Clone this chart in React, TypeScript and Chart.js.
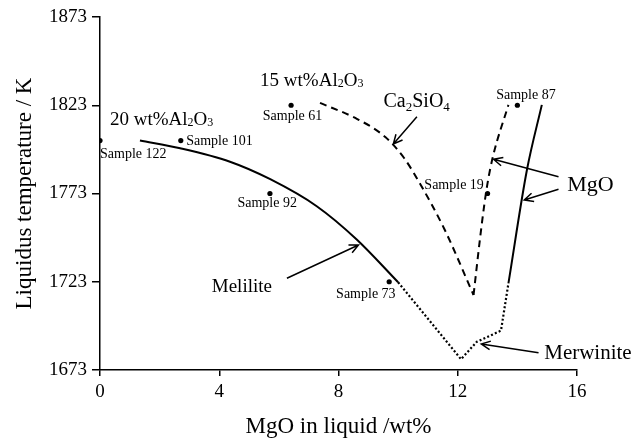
import React, { useEffect, useRef } from "react";
import { Chart, registerables } from "chart.js";
Chart.register(...registerables);

const FONT = "'Liberation Serif', 'Times New Roman', serif";

const xTicks = [0, 4, 8, 12, 16];
const yTicks = [1673, 1723, 1773, 1823, 1873];

// Melilite liquidus (solid)
const meliliteX = [1.34, 2.69, 4.36, 5.71, 7.27, 8.62, 10.0];
const meliliteY = [1803.0, 1798.6, 1791.0, 1781.1, 1765.8, 1746.8, 1722.7];

// Merwinite liquidus (dotted)
const merwiniteX = [10.0, 12.11, 12.64, 13.45, 13.7];
const merwiniteY = [1722.7, 1679.1, 1689.0, 1695.3, 1722.1];

// MgO liquidus, 20 wt% Al2O3 (solid)
const mgo20X = [13.7, 14.32, 14.82];
const mgo20Y = [1722.1, 1786.3, 1823.2];

// Ca2SiO4 liquidus, 15 wt% Al2O3 (dashed)
const ca2sio4X = [7.38, 8.63, 9.57, 10.2, 10.74, 11.55, 12.53];
const ca2sio4Y = [1824.3, 1815.2, 1805.0, 1793.1, 1778.4, 1752.9, 1715.5];

// MgO liquidus, 15 wt% Al2O3 (dashed)
const mgo15X = [12.53, 12.81, 12.98, 13.18, 13.7];
const mgo15Y = [1715.5, 1756.2, 1776.9, 1793.9, 1823.2];

// Samples
const sampleNames = ["Sample 122", "Sample 101", "Sample 61", "Sample 92", "Sample 73", "Sample 19", "Sample 87"];
const sampleX = [0, 2.71, 6.41, 5.7, 9.7, 13.0, 14.0];
const sampleY = [1803, 1803, 1823, 1773, 1723, 1773, 1823];
// label anchors (left, baseline) in data units
const sampleLabelX = [0.0, 2.89, 5.46, 4.61, 7.92, 10.88, 13.29];
const sampleLabelY = [1793.0, 1800.5, 1814.7, 1765.5, 1713.6, 1775.4, 1826.6];

// Text annotations: segments [text, isSubscript]
type Seg = [string, boolean];
const textLabels: { segs: Seg[]; x: number; y: number; size: number; subDrop: number }[] = [
  { segs: [["20 wt%Al", false], ["2", true], ["O", false], ["3", true]], x: 0.336, y: 1811.8, size: 19, subDrop: 1 },
  { segs: [["15 wt%Al", false], ["2", true], ["O", false], ["3", true]], x: 5.37, y: 1833.9, size: 19, subDrop: 1 },
  { segs: [["Ca", false], ["2", true], ["SiO", false], ["4", true]], x: 9.51, y: 1822.2, size: 20, subDrop: 4 },
  { segs: [["MgO", false]], x: 15.67, y: 1774.6, size: 22, subDrop: 0 },
  { segs: [["Melilite", false]], x: 3.75, y: 1717.4, size: 19, subDrop: 0 },
  { segs: [["Merwinite", false]], x: 14.9, y: 1679.1, size: 21, subDrop: 0 },
];

// Arrows: from (x1,y1) to tip (x2,y2) in data units
const arrowFromX = [10.63, 15.38, 15.38, 6.27, 14.71];
const arrowFromY = [1816.5, 1782.5, 1775.4, 1725.0, 1682.8];
const arrowToX = [9.84, 13.2, 14.23, 8.67, 12.79];
const arrowToY = [1801.1, 1792.4, 1769.3, 1743.8, 1687.7];

const pts = (xs: number[], ys: number[]) => xs.map((x, i) => ({ x, y: ys[i] }));

const annotPlugin = {
  id: "annot",
  afterDatasetsDraw(chart: any) {
    const { ctx, scales } = chart;
    const xs = scales.x;
    const ys = scales.y;
    ctx.save();
    ctx.fillStyle = "#000";
    ctx.strokeStyle = "#000";
    ctx.textBaseline = "alphabetic";
    ctx.textAlign = "left";
    // sample labels
    ctx.font = `14px ${FONT}`;
    sampleNames.forEach((n, i) => {
      ctx.fillText(n, xs.getPixelForValue(sampleLabelX[i]), ys.getPixelForValue(sampleLabelY[i]));
    });
    // rich text labels
    textLabels.forEach((l) => {
      let px = xs.getPixelForValue(l.x);
      const py = ys.getPixelForValue(l.y);
      l.segs.forEach(([t, sub]) => {
        const size = sub ? Math.round(l.size * 0.65) : l.size;
        ctx.font = `${size}px ${FONT}`;
        ctx.fillText(t, px, py + (sub ? l.subDrop : 0));
        px += ctx.measureText(t).width;
      });
    });
    // arrows
    ctx.lineWidth = 1.5;
    ctx.setLineDash([]);
    arrowFromX.forEach((_, i) => {
      const x1 = xs.getPixelForValue(arrowFromX[i]);
      const y1 = ys.getPixelForValue(arrowFromY[i]);
      const x2 = xs.getPixelForValue(arrowToX[i]);
      const y2 = ys.getPixelForValue(arrowToY[i]);
      const a = Math.atan2(y2 - y1, x2 - x1);
      const h = 10;
      const spread = 0.45;
      ctx.beginPath();
      ctx.moveTo(x1, y1);
      ctx.lineTo(x2, y2);
      ctx.moveTo(x2 - h * Math.cos(a - spread), y2 - h * Math.sin(a - spread));
      ctx.lineTo(x2, y2);
      ctx.lineTo(x2 - h * Math.cos(a + spread), y2 - h * Math.sin(a + spread));
      ctx.stroke();
    });
    ctx.restore();
  },
};

export default function App() {
  const ref = useRef<HTMLCanvasElement>(null);
  useEffect(() => {
    if (!ref.current) return;
    const lineDs = (data: any[], dash: number[], width: number, smooth: boolean) => ({
      data,
      showLine: true,
      borderColor: "#000",
      borderWidth: width,
      borderDash: dash,
      pointRadius: 0,
      pointHoverRadius: 0,
      tension: smooth ? 0.4 : 0,
      cubicInterpolationMode: smooth ? "monotone" : "default",
      fill: false,
    });
    const chart = new Chart(ref.current, {
      type: "scatter",
      data: {
        datasets: [
          lineDs(pts(meliliteX, meliliteY), [], 2, true) as any,
          lineDs(pts(merwiniteX, merwiniteY), [2, 2.2], 2.2, false) as any,
          lineDs(pts(mgo20X, mgo20Y), [], 2, true) as any,
          lineDs(pts(ca2sio4X, ca2sio4Y), [7, 5], 2, true) as any,
          lineDs(pts(mgo15X, mgo15Y), [7, 5], 2, true) as any,
          {
            data: pts(sampleX, sampleY),
            pointRadius: 2.6,
            pointBackgroundColor: "#000",
            pointBorderColor: "#000",
            pointBorderWidth: 0,
            showLine: false,
          } as any,
        ],
      },
      options: {
        animation: false,
        responsive: true,
        maintainAspectRatio: false,
        layout: { padding: { left: 0, top: 17, right: 65, bottom: 0 } },
        plugins: { legend: { display: false }, tooltip: { enabled: false } },
        events: [],
        scales: {
          x: {
            type: "linear",
            min: 0,
            max: 16,
            afterBuildTicks: (s: any) => {
              s.ticks = xTicks.map((v) => ({ value: v }));
            },
            afterFit: (s: any) => {
              s.height = 72;
            },
            grid: { drawOnChartArea: false, drawTicks: true, tickLength: 6, color: "#000", lineWidth: 1.5 },
            border: { display: true, color: "#000", width: 1.5 },
            ticks: {
              color: "#000",
              font: { family: FONT, size: 19 },
              padding: 5,
              maxRotation: 0,
              callback: (v: any) => String(v),
            },
            title: {
              display: true,
              text: "MgO in liquid /wt%",
              color: "#000",
              font: { family: FONT, size: 23 },
              padding: { top: 4, bottom: 1 },
            },
          },
          y: {
            type: "linear",
            min: 1673,
            max: 1873,
            afterBuildTicks: (s: any) => {
              s.ticks = yTicks.map((v) => ({ value: v }));
            },
            afterFit: (s: any) => {
              s.width = 100;
            },
            grid: { drawOnChartArea: false, drawTicks: true, tickLength: 8, color: "#000", lineWidth: 1.5 },
            border: { display: true, color: "#000", width: 1.5 },
            ticks: {
              color: "#000",
              font: { family: FONT, size: 19 },
              padding: 5,
              callback: (v: any) => String(v),
            },
            title: {
              display: true,
              text: "Liquidus temperature / K",
              color: "#000",
              font: { family: FONT, size: 23 },
              padding: { top: 11, bottom: 0 },
            },
          },
        },
      },
      plugins: [annotPlugin],
    });
    return () => chart.destroy();
  }, []);
  return (
    <div style={{ position: "fixed", left: 0, top: 0, width: 642, height: 442, background: "#fff" }}>
      <canvas ref={ref} />
    </div>
  );
}
